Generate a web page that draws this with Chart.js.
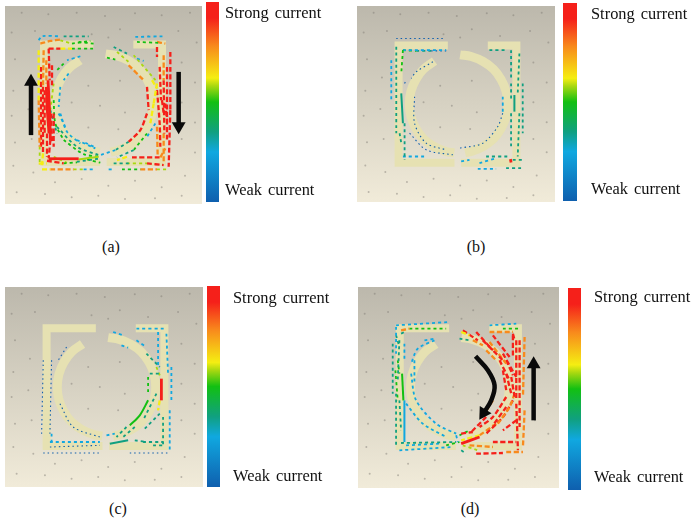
<!DOCTYPE html>
<html>
<head>
<meta charset="utf-8">
<style>
  body { margin: 0; background: #fff; }
  #page { position: relative; width: 692px; height: 518px; overflow: hidden; }
  canvas { position: absolute; }
  canvas.plate { filter: blur(0.55px); }
  .cap { position: absolute; font: 16px "Liberation Serif", serif; color: #111; transform: translate(-50%, -50%); }
</style>
</head>
<body>
<div id="page"></div>
<script src="https://cdn.jsdelivr.net/npm/chart.js@4/dist/chart.umd.min.js"></script>
<script>
// colour bar
const barLabels = ["Strong current", "Weak current"];
const barLevels = [0, 25, 35, 50, 58, 62, 78, 92, 100];
const barColors = ["#0f5fae", "#10a8e0", "#10a080", "#12c012", "#a8d810", "#f5ee12", "#f88a1c", "#f5201a", "#f5201a"];

// antenna outline, plate coordinates
const frameLeft = [[273,119],[125,119],[125,472],[293,472]];
const frameRight = [[393,119],[479,119],[479,472],[313,472]];
const ringLeft = [[233,166],[200,190],[177,221],[162,257],[157,295],[162,333],[177,369],[200,400],[231,423],[267,438],[292,442]];
const ringRight = [[310,147],[343,152],[379,167],[410,190],[433,221],[448,257],[453,295],[448,333],[433,369],[410,400],[379,423],[343,438],[325,442]];

// mesh dots on the plate
const meshDots = [[50,20],[130,25],[215,20],[300,30],[390,22],[470,28],[555,20],[20,80],[90,75],[260,85],[345,70],[430,90],[520,75],[575,110],
  [30,160],[75,215],[25,255],[230,120],[310,95],[530,170],[570,230],[345,225],[250,240],[285,300],[200,290],[360,320],[530,290],[570,350],
  [20,330],[70,310],[30,410],[80,400],[250,365],[340,370],[530,400],[570,440],[25,480],[85,500],[150,530],[230,520],[310,540],[390,525],[470,545],[540,510],[35,560],[120,565],[200,575],[280,570],[360,580],[450,578],[530,570]];

// current streamlines: strength, then x,y pairs
const solidA = [[100,145,476,235,476],[100,143,240,148,340,150,420],[100,138,260,141,330,146,400],[60,235,478,295,470]];
const currentA = [
  [30,115,120,125,108,180,108],[40,190,108,265,108],[80,120,130,150,122,180,118],[60,180,120,215,130],[50,215,130,270,122],[55,235,125,280,130],
  [95,145,145,180,145],[75,180,145,215,145],[50,215,145,280,145],
  [75,115,150,115,300],[90,115,300,118,440],[60,118,440,118,495],[82,130,150,128,260],[95,128,260,128,460],[70,128,460,125,495],
  [100,145,145,148,240],[100,150,420,145,475],[95,155,195,155,260],[95,160,340,160,440],[100,133,270,133,400],
  [100,122,200,122,440],[90,138,180,138,250],[95,152,340,155,430],[100,140,400,140,470],
  [95,140,482,190,490],[55,190,490,230,487],[45,230,485,300,475],[70,125,508,150,508],[80,150,508,220,508],[60,220,508,250,508],[30,250,508,280,508],[75,115,490,140,490],
  [60,160,470,200,488],[50,260,478,300,488],
  [28,240,168,200,180],[50,190,190,170,210],[30,205,220,190,240],[28,180,260,175,320],[30,175,340,195,380],[60,160,250,150,330],[45,150,330,170,400],
  [55,160,300,165,370,190,420],[30,180,340,200,395,240,430],[25,255,428,285,442],
  [50,190,420,250,462,300,470],[28,230,420,285,445],[35,170,380,230,440,295,465],
  [35,340,140,380,160],[50,320,172,345,178],[60,350,155,385,185],[88,385,195,430,240],[60,400,165,470,245],[32,410,175,430,182],
  [92,440,260,445,330],[97,440,340,420,390,385,425],[42,385,425,345,450],[25,345,450,300,465],
  [70,470,250,460,310],[65,460,310,450,370],[30,465,370,440,410],[55,440,400,400,450],[45,400,450,350,472],[70,380,470,350,480],
  [100,510,155,510,330],[100,510,330,505,500],[80,490,165,490,240],[95,490,240,492,400],[85,490,400,490,490],[100,470,270,478,370,480,440],[100,485,300,490,340],[92,470,140,470,170],
  [100,478,200,482,300],[95,500,200,500,420],[100,495,310,500,360],[90,470,380,472,470],[70,455,240,470,265],
  [30,405,110,490,108],[55,410,125,480,128],[80,470,125,495,130],
  [95,395,472,480,472],[100,440,490,490,495],[90,480,472,495,445],[30,325,508,340,508],[50,365,508,420,508],[90,420,508,470,508],[60,470,508,505,508],[40,340,490,390,490],[60,380,490,440,490]
];
const solidB = [[45,165,280,170,370],[92,493,478,495,488],[48,505,285,505,335]];
const currentB = [
  [25,135,180,135,300],[35,150,140,150,400],[50,170,150,165,220],[30,170,150,300,150],[55,170,150,210,152],[35,210,152,255,152],[15,255,152,300,152],
  [40,175,370,175,480],[35,160,400,165,430],[12,150,115,290,115],
  [12,260,185,210,215,195,235],[20,175,250,180,240],[8,205,290,205,370,240,430,300,450],[10,190,400,240,450,320,465],
  [18,470,340,455,380,410,430,340,445],[25,470,290,470,340],
  [45,495,250,495,300],[45,495,340,495,440],[40,520,160,515,280],[35,530,250,530,400],[40,520,340,515,470],
  [35,430,150,480,150],[40,495,150,495,240],[30,345,485,370,480],[30,400,490,450,475],[38,420,470,490,470],[40,500,480,530,480],
  [30,395,507,450,507],[35,480,505,525,505],[30,170,470,240,470]
];
const solidC = [[100,485,355,485,420],[50,445,420,420,465,390,495],[45,330,550,385,540]];
const currentC = [
  [18,155,300,150,520],[10,130,300,125,520],[30,155,520,155,545],[30,150,545,300,545],[15,150,560,300,555],[12,130,578,300,578],
  [8,200,260,175,300],[8,180,430,220,500,300,530],[25,320,525,345,520],
  [30,340,215,370,225],[30,365,255,385,262],[30,410,240,440,260],[35,440,280,480,320],[45,450,340,480,340],[60,470,320,480,345],[75,480,420,475,450],
  [55,445,350,445,400],[45,470,400,430,480],[40,480,460,430,510],[35,405,500,370,530],[40,380,500,350,530],
  [30,410,205,500,205],[30,475,215,475,320],[25,500,220,505,340],[30,515,320,515,420],[40,490,470,490,560],[30,510,450,510,570],
  [35,430,545,490,545],[40,460,555,495,555],[20,390,578,510,578],[35,405,540,440,545]
];
const solidD = [[50,168,340,172,420],[30,175,420,175,545],[100,345,550,400,530]];
const currentD = [
  [30,150,200,150,280],[42,160,240,155,360],[40,150,400,150,560],[35,140,250,140,400],
  [50,155,300,160,340],[55,148,330,155,420],[40,160,420,165,510],[30,175,250,175,300],[45,150,225,160,260],
  [30,150,195,310,185],[90,165,210,190,205],[55,190,205,300,205],[45,165,220,175,215],
  [30,265,240,215,265,195,310],[25,195,340,210,420,270,490,330,520],[30,235,240,265,235],[28,180,430,230,490,300,530],[28,205,300,205,370],
  [40,165,548,330,545],[25,160,570,320,560],[30,330,525,335,545],[30,180,555,280,550],[50,300,555,340,545],
  [70,345,215,370,225],[45,340,235,370,240],[100,350,210,395,240],[90,380,240,410,255],[95,410,240,470,300],[85,420,270,450,300],[95,460,300,490,360],[100,480,340,495,400],[95,470,280,510,350],
  [95,390,215,440,270],[100,440,225,490,290],[90,430,245,480,310],[100,480,300,500,345],[95,470,330,480,390],[100,495,350,505,410],[90,505,400,490,440,455,490],[95,480,440,440,495],[95,420,470,375,515],
  [100,510,240,510,420],[95,520,240,520,500],[95,500,225,500,290],[85,535,230,530,410],[90,535,450,530,560],[100,510,430,515,570],
  [100,480,410,440,470,400,500],[95,500,420,470,470,420,520],[95,510,480,470,510],[85,440,420,415,460],[90,450,490,400,525],
  [70,400,525,345,540],[100,345,520,380,515],[55,340,525,370,510],
  [25,430,195,510,190],[90,430,215,500,215],[55,470,205,520,205],[95,500,220,505,240],
  [90,370,555,440,560],[100,390,580,470,578],[95,440,545,510,545],[90,480,575,530,575],[60,350,555,395,570],[35,345,570,360,580]
];

// black arrows: head rotation, then shaft x,y pairs
const arrowsA = [[0,92,405,92,245],[180,535,215,535,378]];
const arrowsB = [];
const arrowsC = [];
const arrowsD = [[0,562,480,562,312],[212,388,288,425,330,445,375,435,420,412,458]];

const panels = [
  { tag: "(a)", plate: [5,6,197,198],   range: [14,605,17,612],  origin: [6,14],  solid: solidA, current: currentA, arrows: arrowsA, bar: [206,2,13,200],   labelX: 225, strongAt: 94,   weakAt: 5.6, capAt: [111,247] },
  { tag: "(b)", plate: [357,6,198,196], range: [32,627,17,607],  origin: [32,17], solid: solidB, current: currentB, arrows: arrowsB, bar: [563,3,14,198],   labelX: 591, strongAt: 94,   weakAt: 5.5, capAt: [476,247] },
  { tag: "(c)", plate: [5,287,198,200], range: [15,610,80,680],  origin: [15,85], solid: solidC, current: currentC, arrows: arrowsC, bar: [207,286,13,201], labelX: 233, strongAt: 93.5, weakAt: 5,   capAt: [118,509] },
  { tag: "(d)", plate: [358,287,201,201], range: [36,638,80,683], origin: [36,85], solid: solidD, current: currentD, arrows: arrowsD, bar: [568,288,13,202], labelX: 594, strongAt: 95, weakAt: 6,  capAt: [470,509] }
];

const page = document.getElementById("page");

function addCanvas(x, y, w, h, cls) {
  const c = document.createElement("canvas");
  c.width = w; c.height = h;
  c.style.cssText = `left:${x}px;top:${y}px;width:${w}px;height:${h}px`;
  if (cls) c.className = cls;
  page.appendChild(c);
  return c;
}

function levelColor(level) {
  let i = 0;
  while (i < barLevels.length - 1 && barLevels[i + 1] <= level) i++;
  return barColors[i];
}

function pairs(flat) {
  const out = [];
  for (let i = 0; i < flat.length; i += 2) out.push({ x: flat[i], y: flat[i + 1] });
  return out;
}

const plateBackground = {
  id: "plateBackground",
  beforeDraw(chart) {
    const { ctx, chartArea: a } = chart;
    const g = ctx.createLinearGradient(0, a.top, 0, a.bottom);
    g.addColorStop(0, "#bcb8ac");
    g.addColorStop(1, "#f1ebd9");
    ctx.fillStyle = g;
    ctx.fillRect(a.left, a.top, a.width, a.height);
  }
};

const wideWords = {
  id: "wideWords",
  beforeDraw(chart) { chart.ctx.wordSpacing = "2px"; }
};

function outline(points, origin, width) {
  return {
    data: points.map(p => ({ x: p[0] + origin[0], y: p[1] + origin[1] })),
    showLine: true, borderColor: "#e6e1b2", borderWidth: width, pointRadius: 0,
    borderJoinStyle: "miter", tension: 0
  };
}

function arcOutline(points, origin, width) {
  return Object.assign(outline(points, origin, width), { tension: 0.4, borderJoinStyle: "round" });
}

panels.forEach(p => {
  const [x, y, w, h] = p.plate;
  // chart.js paints the first dataset last, so marks on top go first
  const datasets = [];
  p.arrows.forEach(s => {
    const pts = pairs(s.slice(1));
    datasets.push({
      data: pts, showLine: true, tension: 0.4, borderColor: "#0a0a0a", borderWidth: 4.5,
      pointRadius: pts.map((_, i) => i === pts.length - 1 ? 8 : 0),
      pointStyle: "triangle", pointRotation: s[0], pointBackgroundColor: "#0a0a0a", pointBorderWidth: 0
    });
  });
  p.solid.forEach(s => datasets.push({
    data: pairs(s.slice(1)), showLine: true, pointRadius: 0, tension: 0.3,
    borderColor: levelColor(s[0]), borderWidth: s[0] > 90 ? 2.8 : 2
  }));
  p.current.forEach(s => datasets.push({
    data: pairs(s.slice(1)), showLine: true, pointRadius: 0, tension: 0.3,
    borderColor: levelColor(s[0]), borderWidth: s[0] > 60 ? 2.3 : s[0] > 20 ? 1.8 : 1.1,
    borderDash: s[0] > 60 ? [5, 2.5] : s[0] > 20 ? [3, 3] : [1.5, 3]
  }));
  datasets.push(
    arcOutline(ringLeft, p.origin, 9), arcOutline(ringRight, p.origin, 9),
    outline(frameLeft, p.origin, 8), outline(frameRight, p.origin, 8),
    { data: meshDots.map(d => ({ x: d[0] + p.range[0], y: d[1] + p.range[2] })), pointRadius: 1, pointBorderWidth: 0, pointBackgroundColor: "rgba(125,120,112,.45)", showLine: false }
  );

  new Chart(addCanvas(x, y, w, h, "plate"), {
    type: "scatter",
    data: { datasets },
    options: {
      responsive: false, animation: false, events: [],
      layout: { padding: 0, autoPadding: false },
      plugins: { legend: { display: false }, tooltip: { enabled: false } },
      scales: {
        x: { display: false, min: p.range[0], max: p.range[1] },
        y: { display: false, reverse: true, min: p.range[2], max: p.range[3] }
      }
    },
    plugins: [plateBackground]
  });

  // colour bar with its two labels as axis ticks
  const [bx, by, bw, bh] = p.bar;
  const cw = Math.min(692 - bx, p.labelX - bx + 102);
  new Chart(addCanvas(bx, by, cw, bh), {
    type: "bar",
    data: {
      labels: [""],
      datasets: [{
        data: [[0, 100]], barPercentage: 1, categoryPercentage: 1, borderWidth: 0,
        backgroundColor(c) {
          const a = c.chart.chartArea;
          if (!a) return "#888";
          const g = c.chart.ctx.createLinearGradient(0, a.bottom, 0, a.top);
          barLevels.forEach((l, i) => g.addColorStop(l / 100, barColors[i]));
          return g;
        }
      }]
    },
    options: {
      responsive: false, animation: false, events: [],
      layout: { padding: 0, autoPadding: false },
      plugins: { legend: { display: false }, tooltip: { enabled: false } },
      scales: {
        x: { display: false },
        y: {
          position: "right", min: 0, max: 100,
          grid: { display: false, drawTicks: false, tickLength: 0 }, border: { display: false },
          afterBuildTicks(s) { s.ticks = [{ value: p.weakAt }, { value: p.strongAt }]; },
          afterFit(s) { s.width = cw - bw; s.paddingTop = 0; s.paddingBottom = 0; },
          ticks: {
            autoSkip: false, maxRotation: 0, padding: p.labelX - bx - bw, color: "#111",
            font: { family: "Liberation Serif", size: 16.4 },
            callback: v => v > 50 ? barLabels[0] : barLabels[1]
          }
        }
      }
    },
    plugins: [wideWords]
  });

  const cap = document.createElement("div");
  cap.className = "cap";
  cap.textContent = p.tag;
  cap.style.left = p.capAt[0] + "px";
  cap.style.top = p.capAt[1] + "px";
  page.appendChild(cap);
});
</script>
</body>
</html>
